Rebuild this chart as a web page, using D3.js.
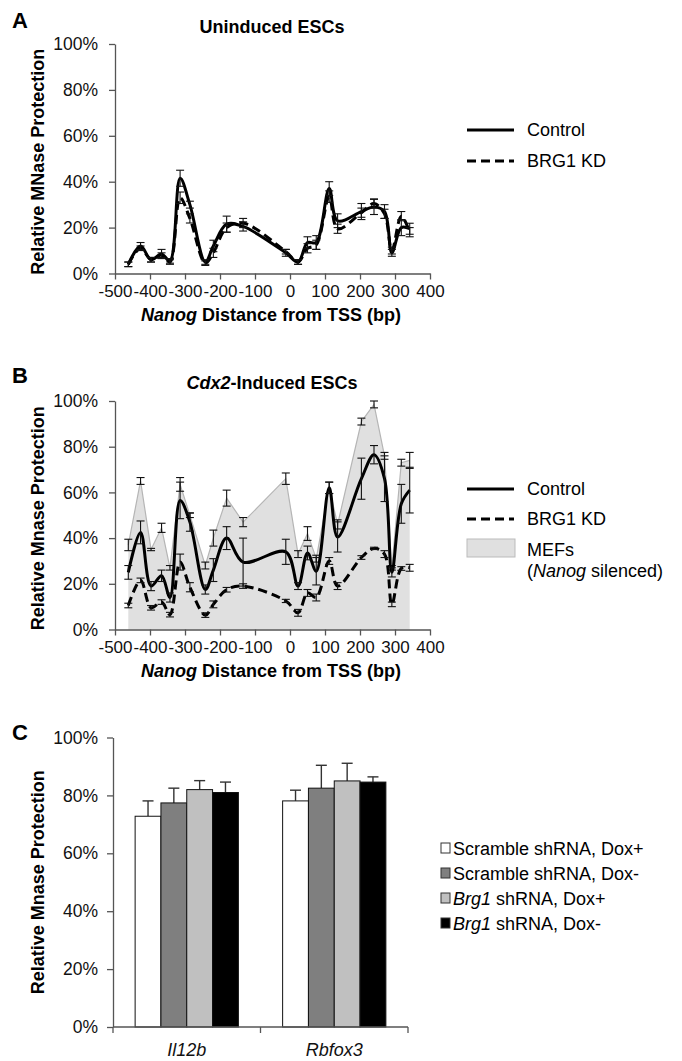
<!DOCTYPE html>
<html>
<head>
<meta charset="utf-8">
<script src="https://cdn.jsdelivr.net/npm/d3@7"></script>
<style>
  body { margin: 0; background: #fff; }
  svg { font-family: "Liberation Sans", Arial, sans-serif; }
  .axis path, .axis line { stroke: #555; stroke-width: 1.3px; }
  .axis text { font-size: 17.5px; fill: #111; font-family: "Liberation Sans", Arial, sans-serif; }
  .axis.xpos text { font-size: 17px; }
</style>
</head>
<body>
<div id="chart"></div>
<script>
//////////////////////////////////////////////////////////////
////////////////////////// Data //////////////////////////////
//////////////////////////////////////////////////////////////

// amplicon positions relative to the Nanog TSS (bp)
var positions = [-462, -427, -397, -367, -343, -314, -286, -242, -219, -181, -134,
                 -12, 23, 50, 75, 112, 136, 204, 240, 270, 291, 318, 342];

var xTicks = [-500, -400, -300, -200, -100, 0, 100, 200, 300, 400];
var yTicks = [0, 20, 40, 60, 80, 100];

// Panel A - uninduced ESCs
var aControl    = [4, 12, 6, 8.5, 5.5, 41.5, 30, 5, 12, 21.5, 20.5, 9, 5, 13.5, 13.5, 37, 23, 27, 29, 27, 9, 20, 19.5];
var aControlErr = [1, 1.5, 1, 2, 1, 3.5, 1.5, 1, 2.5, 3.5, 2, 1.5, 1, 2.5, 3, 3, 3, 3.5, 3.3, 3, 1.5, 3.5, 2.4];
var aKD         = [4, 11, 6, 8, 5, 33, 24, 4.5, 9, 20, 22, 9.5, 5, 11, 12.5, 33.5, 19.5, 26.5, 30.5, 26, 10, 25, 18];
var aKDErr      = [1, 1, 1, 1, 1, 2.5, 2, 1, 2, 2, 2, 1, 1, 2, 2, 2.5, 2, 2, 2, 2, 1.5, 2, 2];

// Panel B - Cdx2-induced ESCs
var bControl    = [25, 42.5, 19, 23.5, 14, 56.5, 47, 17.5, 26, 40, 29.5, 34, 19, 33.5, 25.5, 62, 40.5, 66, 76.5, 66, 25, 55, 61];
var bControlErr = [3, 5, 2, 2.5, 2, 8, 4, 2, 5, 5, 10.5, 5.5, 1.5, 3, 6, 2.5, 6.6, 9, 4, 10, 2, 8.5, 10];
var bKD         = [10.5, 21.5, 9.5, 12, 6.5, 29.5, 18.5, 6.3, 11, 17.4, 19, 12.5, 7.3, 16, 14, 30, 19, 31.5, 35.5, 33, 11, 26.7, 27];
var bKDErr      = [1, 1, 1, 1, 1, 3.5, 2, 1, 1.5, 1, 1, 0.7, 1.5, 1.5, 1.5, 1.5, 1.5, 0.8, 0.5, 1.5, 1, 0.8, 1.5];
var bMEF        = [37, 65, 35, 44.5, 27, 63.5, 50, 28, 40, 57.5, 47, 66, 33, 42, 31, 62, 46, 91, 98.5, 76, 27, 73, 74];
var bMEFErr     = [2.5, 1.5, 0.5, 2, 1, 3, 1, 1.5, 3.5, 3.5, 2, 2.5, 1.5, 3, 1.5, 2.5, 2, 1.5, 1.5, 1.5, 1, 1.5, 3.5];

// Panel C - control loci
var cCategories = ["Il12b", "Rbfox3"];
var cSeries     = ["Scramble shRNA, Dox+", "Scramble shRNA, Dox-", "Brg1 shRNA, Dox+", "Brg1 shRNA, Dox-"];
var cColors     = ["#ffffff", "#7f7f7f", "#c0c0c0", "#000000"];
var cValues     = [[72.8, 77.4, 82.0, 81.0], [78.1, 82.5, 85.0, 84.6]];
var cErrors     = [[5.3, 5.1, 3.1, 3.6], [3.7, 7.9, 6.1, 1.8]];

//////////////////////////////////////////////////////////////
//////////////////////// SVG set up //////////////////////////
//////////////////////////////////////////////////////////////

var width = 682, height = 1061;

var svg = d3.select("#chart").append("svg")
    .attr("width", width)
    .attr("height", height);

var fmtPct = function(d) { return d + "%"; };

var x = d3.scaleLinear().domain([-500, 400]).range([115, 430]);

//helper: panel letter + title + y axis
function drawFrame(yScale, letter, letterY, titleParts, titleY, yTitle) {
    svg.append("text")
        .attr("x", 12).attr("y", letterY)
        .style("font-size", "22px").style("font-weight", "bold")
        .text(letter);

    var t = svg.append("text")
        .attr("x", 272).attr("y", titleY)
        .attr("text-anchor", "middle")
        .style("font-size", "18px").style("font-weight", "bold");
    titleParts.forEach(function(p) {
        t.append("tspan").style("font-style", p[1] ? "italic" : "normal").text(p[0]);
    });

    svg.append("text")
        .attr("transform", "translate(44," + ((yScale.range()[0] + yScale.range()[1]) / 2 + 3) + ") rotate(-90)")
        .attr("text-anchor", "middle")
        .style("font-size", "18px").style("font-weight", "bold")
        .text(yTitle);

    svg.append("g")
        .attr("class", "axis")
        .attr("transform", "translate(" + x.range()[0] + ",0)")
        .call(d3.axisLeft(yScale).tickValues(yTicks).tickFormat(fmtPct).tickSize(6).tickSizeOuter(0).tickPadding(11));
}

function drawXAxis(yScale) {
    var y0 = yScale(0);
    //plain hyphen for negatives, like the original
    var g = svg.append("g")
        .attr("class", "axis xpos")
        .attr("transform", "translate(0," + y0 + ")")
        .call(d3.axisBottom(x).tickValues(xTicks).tickFormat(function(d) { return String(d); })
            .tickSize(6).tickSizeOuter(0));
    g.selectAll("text").attr("dy", null).attr("y", 23.5);

    var t = svg.append("text")
        .attr("x", 271).attr("y", y0 + 47)
        .attr("text-anchor", "middle")
        .style("font-size", "18px").style("font-weight", "bold");
    t.append("tspan").style("font-style", "italic").text("Nanog");
    t.append("tspan").text(" Distance from TSS (bp)");
}

function drawLine(yScale, vals, dashed) {
    var line = d3.line()
        .x(function(d, i) { return x(positions[i]); })
        .y(function(d) { return yScale(d); })
        .curve(d3.curveCatmullRom.alpha(0.5));
    svg.append("path")
        .datum(vals)
        .attr("d", line)
        .style("fill", "none")
        .style("stroke", "#000")
        .style("stroke-width", 3)
        .style("stroke-dasharray", dashed ? "9,5" : null);
}

function drawErrors(yScale, vals, errs) {
    var g = svg.append("g");
    vals.forEach(function(v, i) {
        var cx = x(positions[i]), hi = yScale(v + errs[i]), lo = yScale(v - errs[i]);
        g.append("line").attr("x1", cx).attr("x2", cx).attr("y1", hi).attr("y2", lo);
        g.append("line").attr("x1", cx - 4).attr("x2", cx + 4).attr("y1", hi).attr("y2", hi);
        g.append("line").attr("x1", cx - 4).attr("x2", cx + 4).attr("y1", lo).attr("y2", lo);
    });
    g.selectAll("line").style("stroke", "#111").style("stroke-width", 1.1);
}

function lineLegend(lx, ly, label, dashed) {
    svg.append("line")
        .attr("x1", lx).attr("x2", lx + 47).attr("y1", ly).attr("y2", ly)
        .style("stroke", "#000").style("stroke-width", 3)
        .style("stroke-dasharray", dashed ? "9,5" : null);
    svg.append("text")
        .attr("x", lx + 60).attr("y", ly + 6)
        .style("font-size", "18px")
        .text(label);
}

//////////////////////////////////////////////////////////////
////////////////////////// Panel A ///////////////////////////
//////////////////////////////////////////////////////////////

var yA = d3.scaleLinear().domain([0, 100]).range([273.5, 44]);

drawFrame(yA, "A", 28, [["Uninduced ESCs", false]], 33, "Relative MNase Protection");
drawLine(yA, aKD, true);
drawLine(yA, aControl, false);
drawErrors(yA, aKD, aKDErr);
drawErrors(yA, aControl, aControlErr);
drawXAxis(yA);

lineLegend(467, 130, "Control", false);
lineLegend(467, 161, "BRG1 KD", true);

//////////////////////////////////////////////////////////////
////////////////////////// Panel B ///////////////////////////
//////////////////////////////////////////////////////////////

var yB = d3.scaleLinear().domain([0, 100]).range([629.5, 401]);

//MEF area first so it sits underneath
var area = d3.area()
    .x(function(d, i) { return x(positions[i]); })
    .y0(yB(0))
    .y1(function(d) { return yB(d); });

svg.append("path")
    .datum(bMEF)
    .attr("d", area)
    .style("fill", "#e0e0e0")
    .style("stroke", "none");

svg.append("path")
    .datum(bMEF)
    .attr("d", d3.line().x(function(d, i) { return x(positions[i]); }).y(function(d) { return yB(d); }))
    .style("fill", "none")
    .style("stroke", "#b5b5b5")
    .style("stroke-width", 1.2);

drawFrame(yB, "B", 383, [["Cdx2", true], ["-Induced ESCs", false]], 389, "Relative Mnase Protection");
drawErrors(yB, bMEF, bMEFErr);
drawLine(yB, bKD, true);
drawLine(yB, bControl, false);
drawErrors(yB, bKD, bKDErr);
drawErrors(yB, bControl, bControlErr);
drawXAxis(yB);

lineLegend(467, 489, "Control", false);
lineLegend(467, 519, "BRG1 KD", true);
svg.append("rect")
    .attr("x", 467).attr("y", 539).attr("width", 48).attr("height", 18)
    .style("fill", "#e0e0e0").style("stroke", "#bbb");
svg.append("text")
    .attr("x", 527).attr("y", 556)
    .style("font-size", "18px")
    .text("MEFs");
var mefNote = svg.append("text")
    .attr("x", 527).attr("y", 577)
    .style("font-size", "18px");
mefNote.append("tspan").text("(");
mefNote.append("tspan").style("font-style", "italic").text("Nanog");
mefNote.append("tspan").text(" silenced)");

//////////////////////////////////////////////////////////////
////////////////////////// Panel C ///////////////////////////
//////////////////////////////////////////////////////////////

var yC = d3.scaleLinear().domain([0, 100]).range([1027, 737.5]);

var x0 = d3.scaleBand()
    .domain(cCategories)
    .range([113, 408])
    .paddingInner(0.3)
    .paddingOuter(0.15);

var x1 = d3.scaleBand()
    .domain(cSeries)
    .range([0, x0.bandwidth()]);

svg.append("text")
    .attr("x", 12).attr("y", 740)
    .style("font-size", "22px").style("font-weight", "bold")
    .text("C");

svg.append("text")
    .attr("transform", "translate(44," + ((yC(0) + yC(100)) / 2) + ") rotate(-90)")
    .attr("text-anchor", "middle")
    .style("font-size", "18px").style("font-weight", "bold")
    .text("Relative Mnase Protection");

svg.append("g")
    .attr("class", "axis")
    .attr("transform", "translate(113,0)")
    .call(d3.axisLeft(yC).tickValues(yTicks).tickFormat(fmtPct).tickSize(6).tickSizeOuter(0).tickPadding(9));

var groups = svg.append("g").selectAll("g")
    .data(cCategories)
    .enter().append("g")
    .attr("transform", function(d) { return "translate(" + x0(d) + ",0)"; });

groups.each(function(cat, ci) {
    var g = d3.select(this);
    cSeries.forEach(function(s, si) {
        var v = cValues[ci][si], e = cErrors[ci][si];
        var cx = x1(s) + x1.bandwidth() / 2;
        //error bar (upper half only)
        g.append("line")
            .attr("x1", cx).attr("x2", cx).attr("y1", yC(v)).attr("y2", yC(v + e))
            .style("stroke", "#333").style("stroke-width", 1.4);
        g.append("line")
            .attr("x1", cx - 5.5).attr("x2", cx + 5.5).attr("y1", yC(v + e)).attr("y2", yC(v + e))
            .style("stroke", "#333").style("stroke-width", 1.4);
        g.append("rect")
            .attr("x", x1(s))
            .attr("y", yC(v))
            .attr("width", x1.bandwidth())
            .attr("height", yC(0) - yC(v))
            .style("fill", cColors[si])
            .style("stroke", "#111")
            .style("stroke-width", 1);
    });
});

//category axis with ticks at the group boundaries
var cAxis = svg.append("g").attr("class", "axis");
cAxis.append("line")
    .attr("x1", 113).attr("x2", 408).attr("y1", yC(0)).attr("y2", yC(0));
[113, x0(cCategories[1]) - x0.step() * x0.paddingInner() / 2, 408].forEach(function(px) {
    cAxis.append("line")
        .attr("x1", px).attr("x2", px).attr("y1", yC(0)).attr("y2", yC(0) + 6);
});
cAxis.selectAll("text")
    .data(cCategories)
    .enter().append("text")
    .attr("x", function(d) { return x0(d) + x0.bandwidth() / 2; })
    .attr("y", 1056)
    .attr("text-anchor", "middle")
    .style("font-style", "italic")
    .style("font-size", "18px")
    .text(function(d) { return d; });

//legend
var legC = svg.append("g");
cSeries.forEach(function(s, i) {
    var ly = 848 + i * 25;
    legC.append("rect")
        .attr("x", 441).attr("y", ly - 5).attr("width", 9).attr("height", 10)
        .style("fill", cColors[i]).style("stroke", "#333");
    var t = legC.append("text")
        .attr("x", 453).attr("y", ly + 7)
        .style("font-size", "18px");
    if (s.indexOf("Brg1") === 0) {
        t.append("tspan").style("font-style", "italic").text("Brg1");
        t.append("tspan").text(s.slice(4));
    } else {
        t.text(s);
    }
});
</script>
</body>
</html>
